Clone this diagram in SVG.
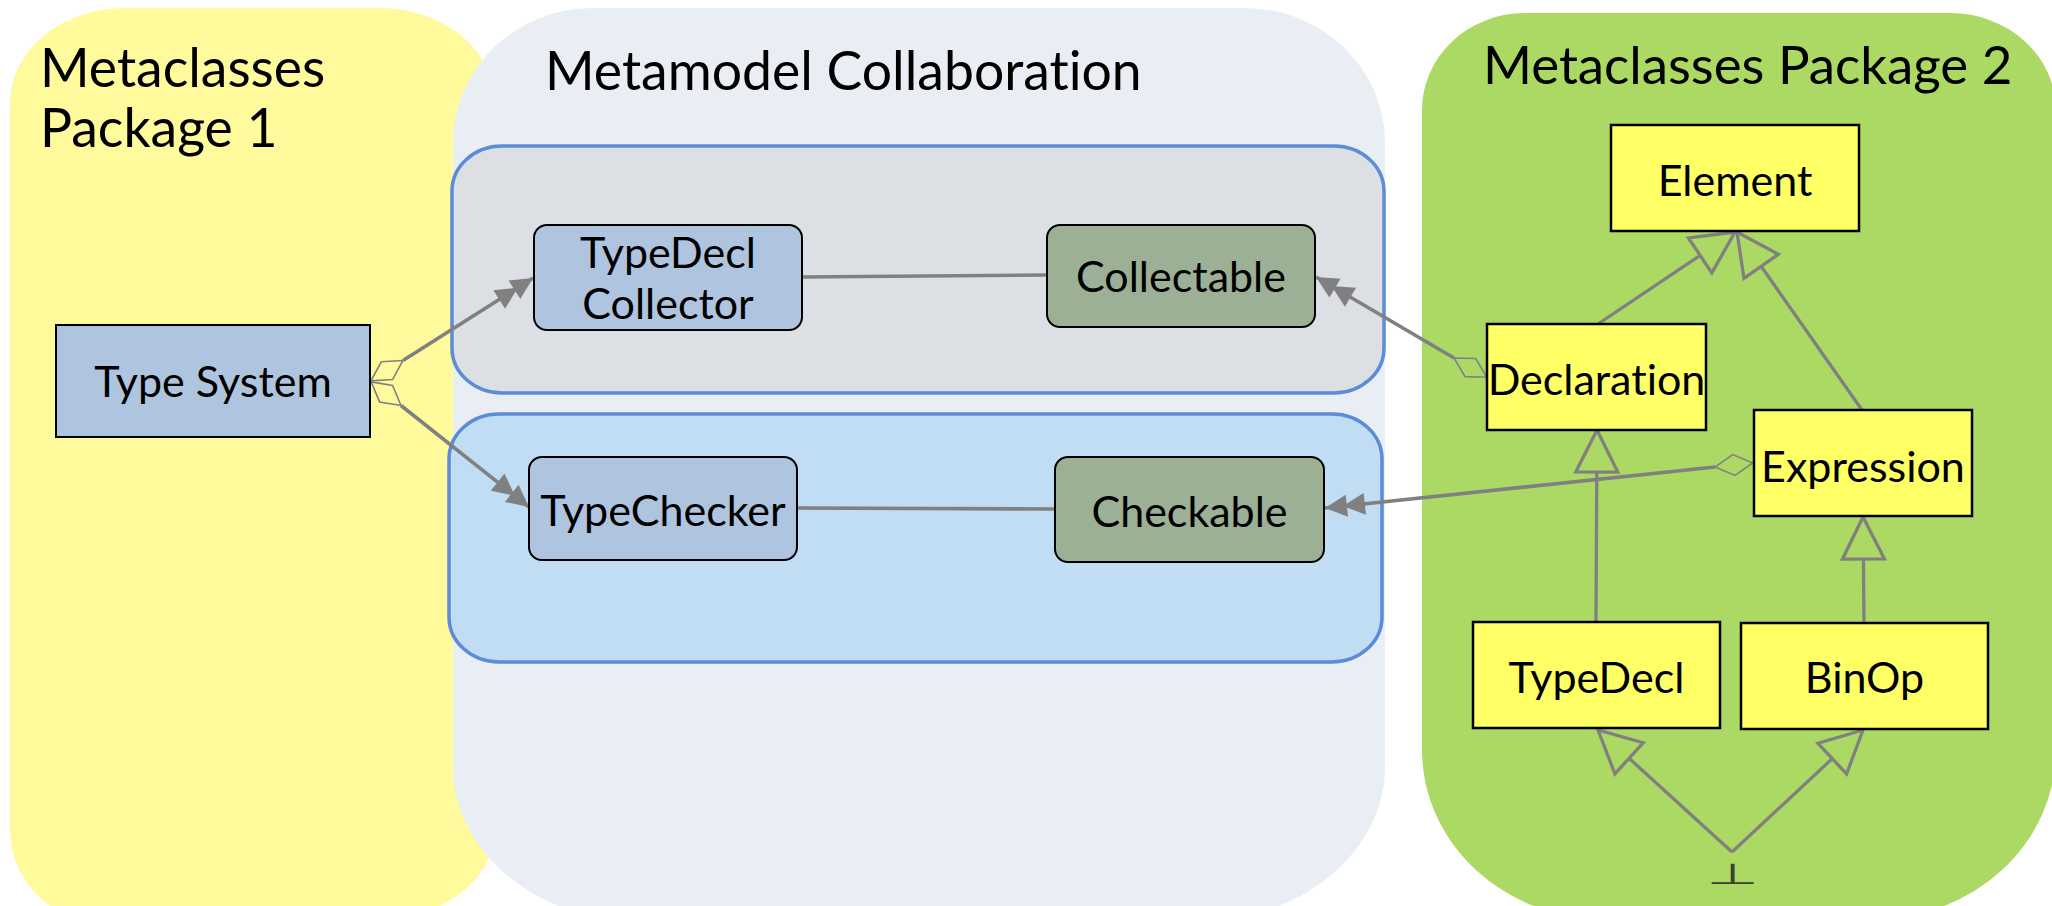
<svg xmlns="http://www.w3.org/2000/svg" width="2052" height="906" viewBox="0 0 2052 906">
<style>
.t{font-family:Lato,"Liberation Sans",sans-serif;fill:#000;font-variant-ligatures:none}
.h{font-size:53.5px}
.n{font-size:43px;text-anchor:middle}
.cls{fill:#afc4de;stroke:#000;stroke-width:2}
.itf{fill:#9bb095;stroke:#000;stroke-width:2}
.mc{fill:#ffff66;stroke:#000;stroke-width:2.5}
.cont{stroke:#5c8bd8;stroke-width:3.5}
.assoc{fill:none;stroke:#808080;stroke-width:3.6}
.gen{fill:none;stroke:#808080;stroke-width:3.3}
</style>
<defs>
<marker id="dbl" markerUnits="userSpaceOnUse" orient="auto" overflow="visible" markerWidth="1" markerHeight="1" refX="0" refY="0">
<path d="M0,0 L-22,-11 L-22,11 Z M-18,0 L-40,-11 L-40,11 Z" fill="#808080"/>
</marker>
<marker id="dia" markerUnits="userSpaceOnUse" orient="auto" overflow="visible" markerWidth="1" markerHeight="1" refX="0" refY="0">
<path d="M0,0 L-19,-10.5 L-38,0 L-19,10.5 Z" fill="none" stroke="#808080" stroke-width="1.6"/>
</marker>
<marker id="tri" markerUnits="userSpaceOnUse" orient="auto" overflow="visible" markerWidth="1" markerHeight="1" refX="0" refY="0">
<path d="M0,0 L-42,-21 L-42,21 Z" fill="#acd963" stroke="#808080" stroke-width="3.3" stroke-linejoin="miter"/>
</marker>
</defs>
<rect width="2052" height="906" fill="#ffffff"/>

<g id="pkg1">
<path d="M125,8 H380 A115 95 0 0 1 495 103 V830 A130 93 0 0 1 365 923 H105 A95 93 0 0 1 10 830 V103 A115 95 0 0 1 125 8 Z" fill="#fffa9c"/>
<text class="t h" x="40" y="87">Metaclasses</text>
<text class="t h" x="40" y="147">Package 1</text>
</g>

<g id="collab">
<path d="M593,8 H1245 A140 135 0 0 1 1385 143 V767 A190 155 0 0 1 1195 922 H643 A190 155 0 0 1 453 767 V143 A140 135 0 0 1 593 8 Z" fill="#e8eef3"/>
<text class="t h" x="545" y="90">Metamodel Collaboration</text>
</g>

<g id="pkg2">
<path d="M1525,13 H1950 A106 97 0 0 1 2056 110 V750 A185 170 0 0 1 1871 920 H1607 A185 170 0 0 1 1422 750 V110 A103 97 0 0 1 1525 13 Z" fill="#acd963"/>
<text class="t h" x="1483" y="84" style="font-size:52.8px">Metaclasses Package 2</text>
</g>

<g id="role-collect">
<rect class="cont" x="452" y="146" width="932" height="247" rx="50" ry="45" fill="#dce0e4"/>
</g>
<g id="role-check">
<rect class="cont" x="449" y="414" width="933" height="248" rx="50" ry="45" fill="#c0ddf4"/>
</g>

<g id="connectors">
<path class="assoc" d="M802,277 L1047,275"/>
<path class="assoc" d="M797,508 L1055,509"/>
<path class="assoc" d="M403,360.5 L533,278" marker-start="url(#dia)" marker-end="url(#dbl)"/>
<path class="assoc" d="M401,405.5 L529,507" marker-start="url(#dia)" marker-end="url(#dbl)"/>
<path class="assoc" d="M1454,358 L1316,277" marker-start="url(#dia)" marker-end="url(#dbl)"/>
<path class="assoc" d="M1715,467 L1325,508" marker-start="url(#dia)" marker-end="url(#dbl)"/>
<path class="gen" d="M1598,324 L1735,232" marker-end="url(#tri)"/>
<path class="gen" d="M1862,410 L1737,232" marker-end="url(#tri)"/>
<path class="gen" d="M1596,622 L1597,430" marker-end="url(#tri)"/>
<path class="gen" d="M1864,623 L1863,517" marker-end="url(#tri)"/>
<path class="gen" d="M1732,852 L1598,730" marker-end="url(#tri)"/>
<path class="gen" d="M1732,852 L1863,730" marker-end="url(#tri)"/>
</g>

<g id="type-system">
<rect class="cls" x="56" y="325" width="314" height="112"/>
<text class="t n" x="213" y="397">Type System</text>
</g>
<g id="typedecl-collector">
<rect class="cls" x="534" y="225" width="268" height="105" rx="13"/>
<text class="t n" x="668" y="268">TypeDecl</text>
<text class="t n" x="668" y="319">Collector</text>
</g>
<g id="collectable">
<rect class="itf" x="1047" y="225" width="268" height="102" rx="13"/>
<text class="t n" x="1181" y="292">Collectable</text>
</g>
<g id="typechecker">
<rect class="cls" x="529" y="457" width="268" height="103" rx="13"/>
<text class="t n" x="663" y="526">TypeChecker</text>
</g>
<g id="checkable">
<rect class="itf" x="1055" y="457" width="269" height="105" rx="13"/>
<text class="t n" x="1189.5" y="527">Checkable</text>
</g>
<g id="element">
<rect class="mc" x="1611" y="125" width="248" height="106"/>
<text class="t n" x="1735" y="196">Element</text>
</g>
<g id="declaration">
<rect class="mc" x="1487" y="324" width="219" height="106"/>
<text class="t n" x="1596.5" y="395">Declaration</text>
</g>
<g id="expression">
<rect class="mc" x="1754" y="410" width="218" height="106"/>
<text class="t n" x="1863" y="482">Expression</text>
</g>
<g id="typedecl">
<rect class="mc" x="1473" y="622" width="247" height="106"/>
<text class="t n" x="1596.5" y="693">TypeDecl</text>
</g>
<g id="binop">
<rect class="mc" x="1741" y="623" width="247" height="106"/>
<text class="t n" x="1864.5" y="693">BinOp</text>
</g>
<g id="bottom">
<text transform="translate(1732,884) scale(1,0.48)" x="0" y="0" font-family="'DejaVu Sans',sans-serif" font-size="60" text-anchor="middle" fill="#3a4230">⊥</text>
</g>
</svg>
